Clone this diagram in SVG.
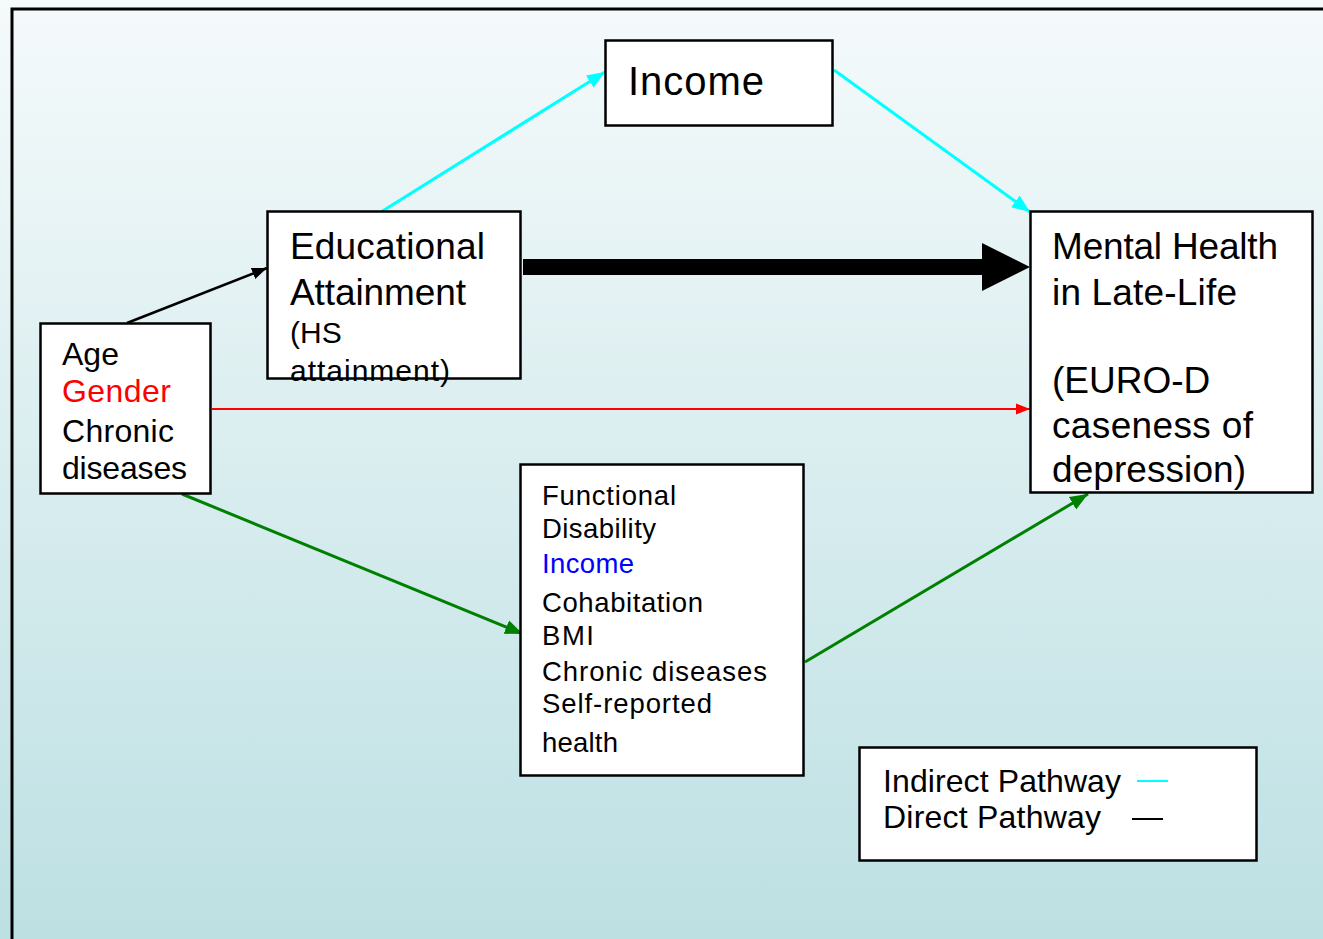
<svg xmlns="http://www.w3.org/2000/svg" width="1323" height="939" viewBox="0 0 1323 939">
<defs>
<linearGradient id="bg" x1="0" y1="0" x2="0" y2="1">
<stop offset="0" stop-color="#f5fafb"/>
<stop offset="1" stop-color="#bde0e3"/>
</linearGradient>
<marker id="aCyan" viewBox="0 0 10 10" refX="10" refY="5" markerWidth="6" markerHeight="6" markerUnits="strokeWidth" orient="auto"><path d="M0,1 L10,5 L0,9 Z" fill="#00ffff"/></marker>
<marker id="aBlack" viewBox="0 0 10 10" refX="10" refY="5" markerWidth="6" markerHeight="6" markerUnits="strokeWidth" orient="auto"><path d="M0,1 L10,5 L0,9 Z" fill="#000"/></marker>
<marker id="aRed" viewBox="0 0 10 10" refX="10" refY="5" markerWidth="7" markerHeight="7" markerUnits="strokeWidth" orient="auto"><path d="M0,1 L10,5 L0,9 Z" fill="#ff0000"/></marker>
<marker id="aGreen" viewBox="0 0 10 10" refX="10" refY="5" markerWidth="6" markerHeight="6" markerUnits="strokeWidth" orient="auto"><path d="M0,1 L10,5 L0,9 Z" fill="#008000"/></marker>
</defs>
<style>
.box{fill:#fff;stroke:#000;stroke-width:2.5}
.t{font-family:"Liberation Sans",Arial,sans-serif;fill:#000}
</style>
<rect x="0" y="0" width="1323" height="939" fill="url(#bg)"/>
<path d="M12,950 L12,9 L1330,9" fill="none" stroke="#000" stroke-width="3"/>

<g id="connectors">
<line x1="381" y1="212" x2="605" y2="72" stroke="#00ffff" stroke-width="3" marker-end="url(#aCyan)"/>
<line x1="834" y1="70" x2="1030" y2="212" stroke="#00ffff" stroke-width="3" marker-end="url(#aCyan)"/>
<line x1="127" y1="323" x2="267" y2="268" stroke="#000" stroke-width="2.5" marker-end="url(#aBlack)"/>
<path d="M523,259 L982,259 L982,243 L1030,267 L982,291 L982,275 L523,275 Z" fill="#000"/>
<line x1="212" y1="409" x2="1030" y2="409" stroke="#ff0000" stroke-width="2" marker-end="url(#aRed)"/>
<line x1="182" y1="494" x2="523" y2="634" stroke="#008000" stroke-width="3" marker-end="url(#aGreen)"/>
<line x1="805" y1="662" x2="1088" y2="494" stroke="#008000" stroke-width="3" marker-end="url(#aGreen)"/>
</g>

<g id="income">
<rect class="box" x="605.5" y="40.5" width="227" height="85"/>
<text class="t" x="628" y="95" font-size="40" textLength="136" lengthAdjust="spacing">Income</text>
</g>

<g id="education">
<rect class="box" x="267.5" y="211.5" width="253" height="167"/>
<text class="t" x="290" y="259" font-size="37" textLength="195" lengthAdjust="spacing">Educational</text>
<text class="t" x="290" y="305" font-size="37" textLength="176" lengthAdjust="spacing">Attainment</text>
<text class="t" x="290" y="343" font-size="30">(HS</text>
<text class="t" x="290" y="381" font-size="30" textLength="160" lengthAdjust="spacing">attainment)</text>
</g>

<g id="mental">
<rect class="box" x="1030.5" y="211.5" width="282" height="281"/>
<text class="t" x="1052" y="259" font-size="37" textLength="226" lengthAdjust="spacing">Mental Health</text>
<text class="t" x="1052" y="305" font-size="37" textLength="185" lengthAdjust="spacing">in Late-Life</text>
<text class="t" x="1052" y="393" font-size="37">(EURO-D</text>
<text class="t" x="1052" y="438" font-size="37" textLength="201" lengthAdjust="spacing">caseness of</text>
<text class="t" x="1052" y="482" font-size="37" textLength="194" lengthAdjust="spacing">depression)</text>
</g>

<g id="covariates">
<rect class="box" x="40.5" y="323.5" width="170" height="170"/>
<text class="t" x="62" y="365" font-size="32">Age</text>
<text class="t" x="62" y="402" font-size="32" style="fill:#ff0000" textLength="109" lengthAdjust="spacing">Gender</text>
<text class="t" x="62" y="442" font-size="32" textLength="112" lengthAdjust="spacing">Chronic</text>
<text class="t" x="62" y="479" font-size="32" textLength="125" lengthAdjust="spacing">diseases</text>
</g>

<g id="mediators">
<rect class="box" x="520.5" y="464.5" width="283" height="311"/>
<text class="t" x="542" y="505" font-size="27.5" textLength="134" lengthAdjust="spacing">Functional</text>
<text class="t" x="542" y="538" font-size="27.5" textLength="114" lengthAdjust="spacing">Disability</text>
<text class="t" x="542" y="573" font-size="27.5" style="fill:#0000ff" textLength="92" lengthAdjust="spacing">Income</text>
<text class="t" x="542" y="612" font-size="27.5" textLength="161" lengthAdjust="spacing">Cohabitation</text>
<text class="t" x="542" y="645" font-size="27.5" textLength="52" lengthAdjust="spacing">BMI</text>
<text class="t" x="542" y="681" font-size="27.5" textLength="225" lengthAdjust="spacing">Chronic diseases</text>
<text class="t" x="542" y="713" font-size="27.5" textLength="170" lengthAdjust="spacing">Self-reported</text>
<text class="t" x="542" y="752" font-size="27.5" textLength="76" lengthAdjust="spacing">health</text>
</g>

<g id="legend">
<rect class="box" x="859.5" y="747.5" width="397" height="113"/>
<text class="t" x="883" y="792" font-size="32" textLength="238" lengthAdjust="spacing">Indirect Pathway</text>
<text class="t" x="883" y="828" font-size="32" textLength="218" lengthAdjust="spacing">Direct Pathway</text>
<line x1="1137" y1="781" x2="1168" y2="781" stroke="#00ffff" stroke-width="2"/>
<line x1="1132" y1="819" x2="1163" y2="819" stroke="#000" stroke-width="2"/>
</g>
</svg>
